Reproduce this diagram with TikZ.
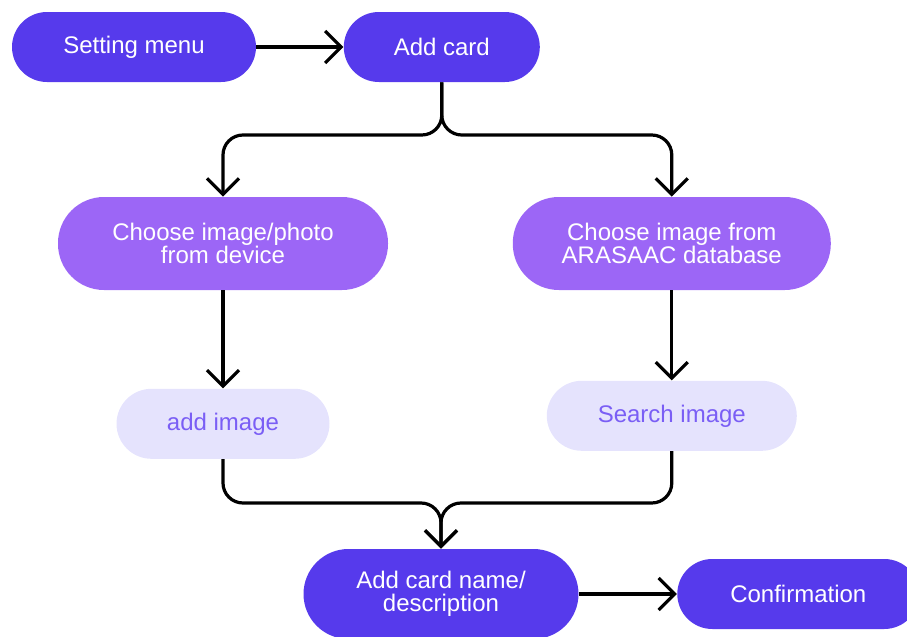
\documentclass[tikz,border=0pt]{standalone}
\usepackage{fontspec}
\setmainfont{Liberation Sans}
\usetikzlibrary{arrows.meta,positioning,calc}
\definecolor{menubox}{RGB}{86,58,236}
\definecolor{choicebox}{RGB}{156,102,246}
\definecolor{actionbox}{RGB}{229,227,253}
\definecolor{actiontext}{RGB}{122,94,245}

\begin{document}
\begin{tikzpicture}[
    x=0.5pt, y=-0.5pt,
    every node/.style={font=\fontsize{12}{11.5}\selectfont},
    mainstep/.style={rectangle, fill=menubox, text=white, align=center, rounded corners=17.5pt, minimum height=35pt},
    choice/.style={rectangle, fill=choicebox, text=white, align=center, rounded corners=23pt, minimum height=46.5pt},
    action/.style={rectangle, fill=actionbox, text=actiontext, align=center, rounded corners=17.5pt, minimum height=35pt},
    arrow/.style={-{Straight Barb[length=8pt,width=16pt]}, line width=1.6pt, rounded corners=10pt},
]
    \useasboundingbox (0,0) rectangle (907,637);

    \node[mainstep, minimum width=122pt] (setting) at (134,47) {Setting menu};

    \node[mainstep, minimum width=98pt, right=43.5pt of setting] (addcard) {Add card};

    \node[choice, minimum width=165pt] (fromdevice) at (223,243.5) {Choose image/photo\\from device};

    \node[choice, minimum width=159pt, right=62pt of fromdevice] (fromarasaac) {Choose image from\\ARASAAC database};

    \node[action, minimum width=106.5pt, below=49pt of fromdevice] (addimage) {add image};

    \node[action, minimum width=125pt, below=45pt of fromarasaac] (searchimage) {Search image};

    \node[mainstep, minimum width=137.5pt, minimum height=45pt, rounded corners=22.5pt] (cardname) at (441,594) {Add card name/\\description};

    \node[mainstep, minimum width=121pt, right=49pt of cardname] (confirm) {Confirmation};

    \coordinate (fork) at (0,135);
    \coordinate (join) at (0,503);

    \draw[arrow] (setting) -- (addcard);
    \draw[arrow] (addcard.south) -- (addcard.south |- fork) -| (fromdevice.north);
    \draw[arrow] (addcard.south) -- (addcard.south |- fork) -| (fromarasaac.north);
    \draw[arrow] (fromdevice) -- (addimage);
    \draw[arrow] (fromarasaac) -- (searchimage);
    \draw[arrow] (addimage.south) |- (cardname.north |- join) -- (cardname.north);
    \draw[arrow] (searchimage.south) |- (cardname.north |- join) -- (cardname.north);
    \draw[arrow] (cardname) -- (confirm);
\end{tikzpicture}
\end{document}
